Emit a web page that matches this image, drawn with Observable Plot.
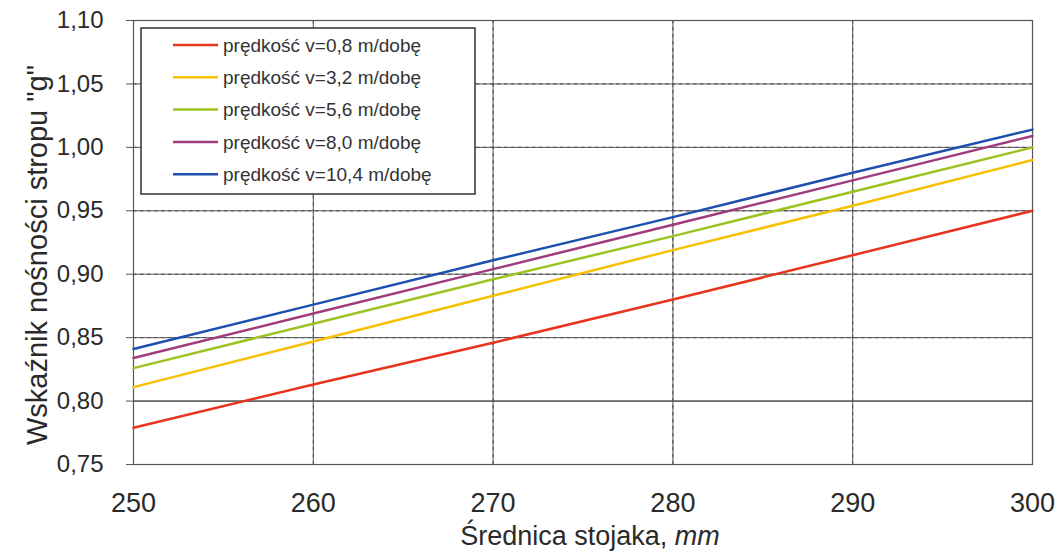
<!DOCTYPE html>
<html>
<head>
<meta charset="utf-8">
<script src="https://cdn.jsdelivr.net/npm/d3@7"></script>
<script src="https://cdn.jsdelivr.net/npm/@observablehq/plot@0.6"></script>
<style>
  html, body { margin: 0; padding: 0; background: #fff; }
  #chart { position: relative; width: 1059px; height: 555px; }
</style>
</head>
<body>
<div id="chart"></div>
<script>
const diameters = [250, 260, 270, 280, 290, 300];
const seriesNames = [
  "prędkość v=0,8 m/dobę",
  "prędkość v=3,2 m/dobę",
  "prędkość v=5,6 m/dobę",
  "prędkość v=8,0 m/dobę",
  "prędkość v=10,4 m/dobę"
];
const v08  = [0.779, 0.813, 0.846, 0.880, 0.915, 0.950];
const v32  = [0.811, 0.847, 0.883, 0.919, 0.954, 0.990];
const v56  = [0.826, 0.861, 0.896, 0.930, 0.965, 1.000];
const v80  = [0.834, 0.869, 0.904, 0.939, 0.974, 1.009];
const v104 = [0.841, 0.876, 0.911, 0.945, 0.980, 1.014];
const seriesValues = [v08, v32, v56, v80, v104];
const colors = ["#e8341c", "#f7c000", "#9cc320", "#a03c7c", "#1c4fae"];
const xTicks = [250, 260, 270, 280, 290, 300];
const yTicks = [0.75, 0.80, 0.85, 0.90, 0.95, 1.00, 1.05, 1.10];
const dashedY = [0.85, 0.90, 0.95, 1.00, 1.05];
const solidY = [0.80];
const dashedX = [260, 270, 280, 290];

const data = [];
seriesNames.forEach((name, i) => {
  diameters.forEach((d, j) => data.push({series: name, d, g: seriesValues[i][j]}));
});

const fmt = v => v.toFixed(2).replace(".", ",");
const font = "'Liberation Sans', Arial, sans-serif";

const plot = Plot.plot({
  width: 1059,
  height: 555,
  marginLeft: 133,
  marginRight: 27,
  marginTop: 20,
  marginBottom: 91,
  style: {fontFamily: font, fontSize: "22px", color: "#2a2a2a", background: "#fff"},
  x: {domain: [250, 300]},
  y: {domain: [0.75, 1.10]},
  color: {domain: seriesNames, range: colors},
  marks: [
    Plot.gridY(dashedY, {stroke: "#333", strokeOpacity: 1, strokeDasharray: "3.5,3.5"}),
    Plot.gridX(dashedX, {stroke: "#333", strokeOpacity: 1, strokeDasharray: "3.5,3.5"}),
    Plot.ruleY(solidY, {stroke: "#555", strokeWidth: 1.2}),
    Plot.frame({stroke: "#555", strokeWidth: 1.2}),
    Plot.axisY(yTicks, {tickFormat: fmt, tickSize: 7, tickPadding: 23, label: null, stroke: "#555", fill: "#2a2a2a", fontSize: 24}),
    Plot.tickY(yTicks, {x1: 250, x2: 250.25, stroke: "#555"}),
    Plot.axisX(xTicks, {tickFormat: d => String(d), tickSize: 0, tickPadding: 28, label: null, fill: "#2a2a2a", fontSize: 27}),
    Plot.tickX(dashedX, {y1: 0.75, y2: 0.7555, stroke: "#555"}),
    Plot.line(data, {x: "d", y: "g", z: "series", stroke: "series", strokeWidth: 2.5})
  ]
});

document.getElementById("chart").appendChild(plot);

const svg = d3.select(plot);
// Y axis title
svg.append("text")
  .attr("transform", "translate(47,255) rotate(-90)")
  .attr("text-anchor", "middle")
  .style("font-family", font).style("font-size", "29px").attr("fill", "#2a2a2a")
  .text("Wskaźnik nośności stropu \"g\"");
// X axis title with italic unit
const xt = svg.append("text")
  .attr("x", 590).attr("y", 545)
  .attr("text-anchor", "middle")
  .style("font-family", font).style("font-size", "27px").attr("fill", "#2a2a2a");
xt.append("tspan").text("Średnica stojaka, ");
xt.append("tspan").style("font-style", "italic").text("mm");

// Legend box
const lg = svg.append("g").attr("transform", "translate(141,28)");
lg.append("rect").attr("width", 334).attr("height", 166)
  .attr("fill", "#fff").attr("stroke", "#333").attr("stroke-width", 1.5);
seriesNames.forEach((name, i) => {
  const y = 17 + i * 32.3;
  lg.append("line").attr("x1", 32).attr("x2", 77).attr("y1", y).attr("y2", y)
    .attr("stroke", colors[i]).attr("stroke-width", 2.5);
  lg.append("text").attr("x", 82).attr("y", y).attr("dy", "0.35em")
    .attr("text-anchor", "start")
    .style("font-family", font).style("font-size", "19px").attr("fill", "#333")
    .text(name);
});
</script>
</body>
</html>
